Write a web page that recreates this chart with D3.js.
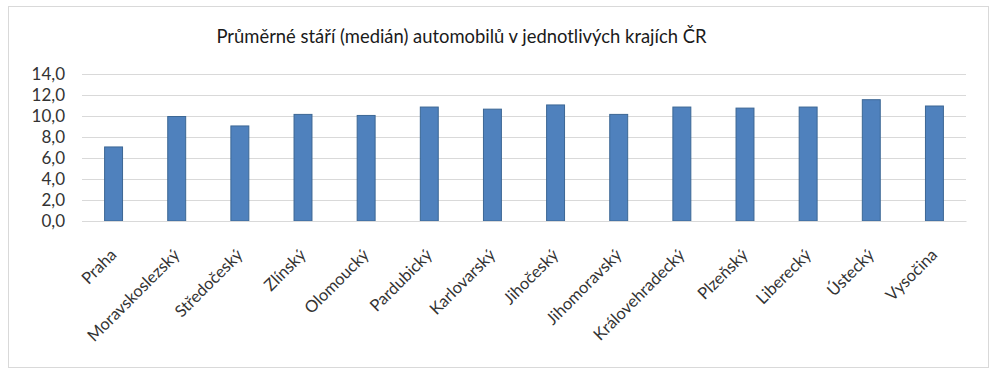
<!DOCTYPE html>
<html><head><meta charset="utf-8">
<script src="https://cdn.jsdelivr.net/npm/d3@7"></script>
<style>body{margin:0;background:#fff}svg{display:block}</style>
</head><body>
<svg id="c" width="1000" height="380"></svg>
<script>
const categories = ["Praha","Moravskoslezský","Středočeský","Zlínský","Olomoucký","Pardubický","Karlovarský","Jihočeský","Jihomoravský","Královehradecký","Plzeňský","Liberecký","Ústecký","Vysočina"];
const values = [7.1, 10.0, 9.1, 10.2, 10.1, 10.9, 10.7, 11.1, 10.2, 10.9, 10.8, 10.9, 11.6, 11.0];
const yTicks = [0, 2, 4, 6, 8, 10, 12, 14];
const title = "Průměrné stáří (medián) automobilů v jednotlivých krajích ČR";

const svg = d3.select("#c");
const font = "Lato, 'Open Sans', sans-serif";
svg.append("rect").attr("x",8.5).attr("y",6.5).attr("width",980).attr("height",361)
  .attr("fill","#fff").attr("stroke","#d9d9d9").attr("stroke-width",1);

const m = {left:82, right:966, top:74, bottom:221};
const x = d3.scaleBand().domain(categories).range([m.left, m.right]).paddingInner(0.7).paddingOuter(0.35);
const y = d3.scaleLinear().domain([0,14]).range([m.bottom, m.top]);

const yAxis = svg.append("g").attr("transform",`translate(${m.left},0)`)
  .call(d3.axisLeft(y).tickValues(yTicks).tickSize(-(m.right-m.left)).tickPadding(17)
    .tickFormat(d => d3.format(".1f")(d).replace(".", ",")));
yAxis.select(".domain").remove();
yAxis.selectAll("line").attr("stroke","#d9d9d9");
yAxis.selectAll("text").attr("font-family",font).attr("font-size",17).attr("fill","#333");

svg.append("g").selectAll("rect").data(values).join("rect")
  .attr("x",(d,i)=>x(categories[i])+0.5).attr("width",x.bandwidth()-1)
  .attr("y",d=>y(d)+0.5).attr("height",d=>y(0)-y(d)-0.5)
  .attr("fill","#4f81bd").attr("stroke","#3c6794").attr("stroke-width",1);

const xAxis = svg.append("g").attr("transform",`translate(0,${m.bottom})`)
  .call(d3.axisBottom(x).tickSize(0).tickPadding(0));
xAxis.select(".domain").attr("stroke","#d9d9d9");
xAxis.selectAll("text").attr("font-family",font).attr("font-size",16.5).attr("fill","#333")
  .attr("text-anchor","end").attr("dy",null).attr("y",null)
  .attr("transform","translate(4,35) rotate(-45)");

svg.append("text").attr("x",461.5).attr("y",43).attr("text-anchor","middle")
  .attr("font-family",font).attr("font-size",18.4).attr("fill","#1a1a1a").text(title);
</script>
</body></html>
